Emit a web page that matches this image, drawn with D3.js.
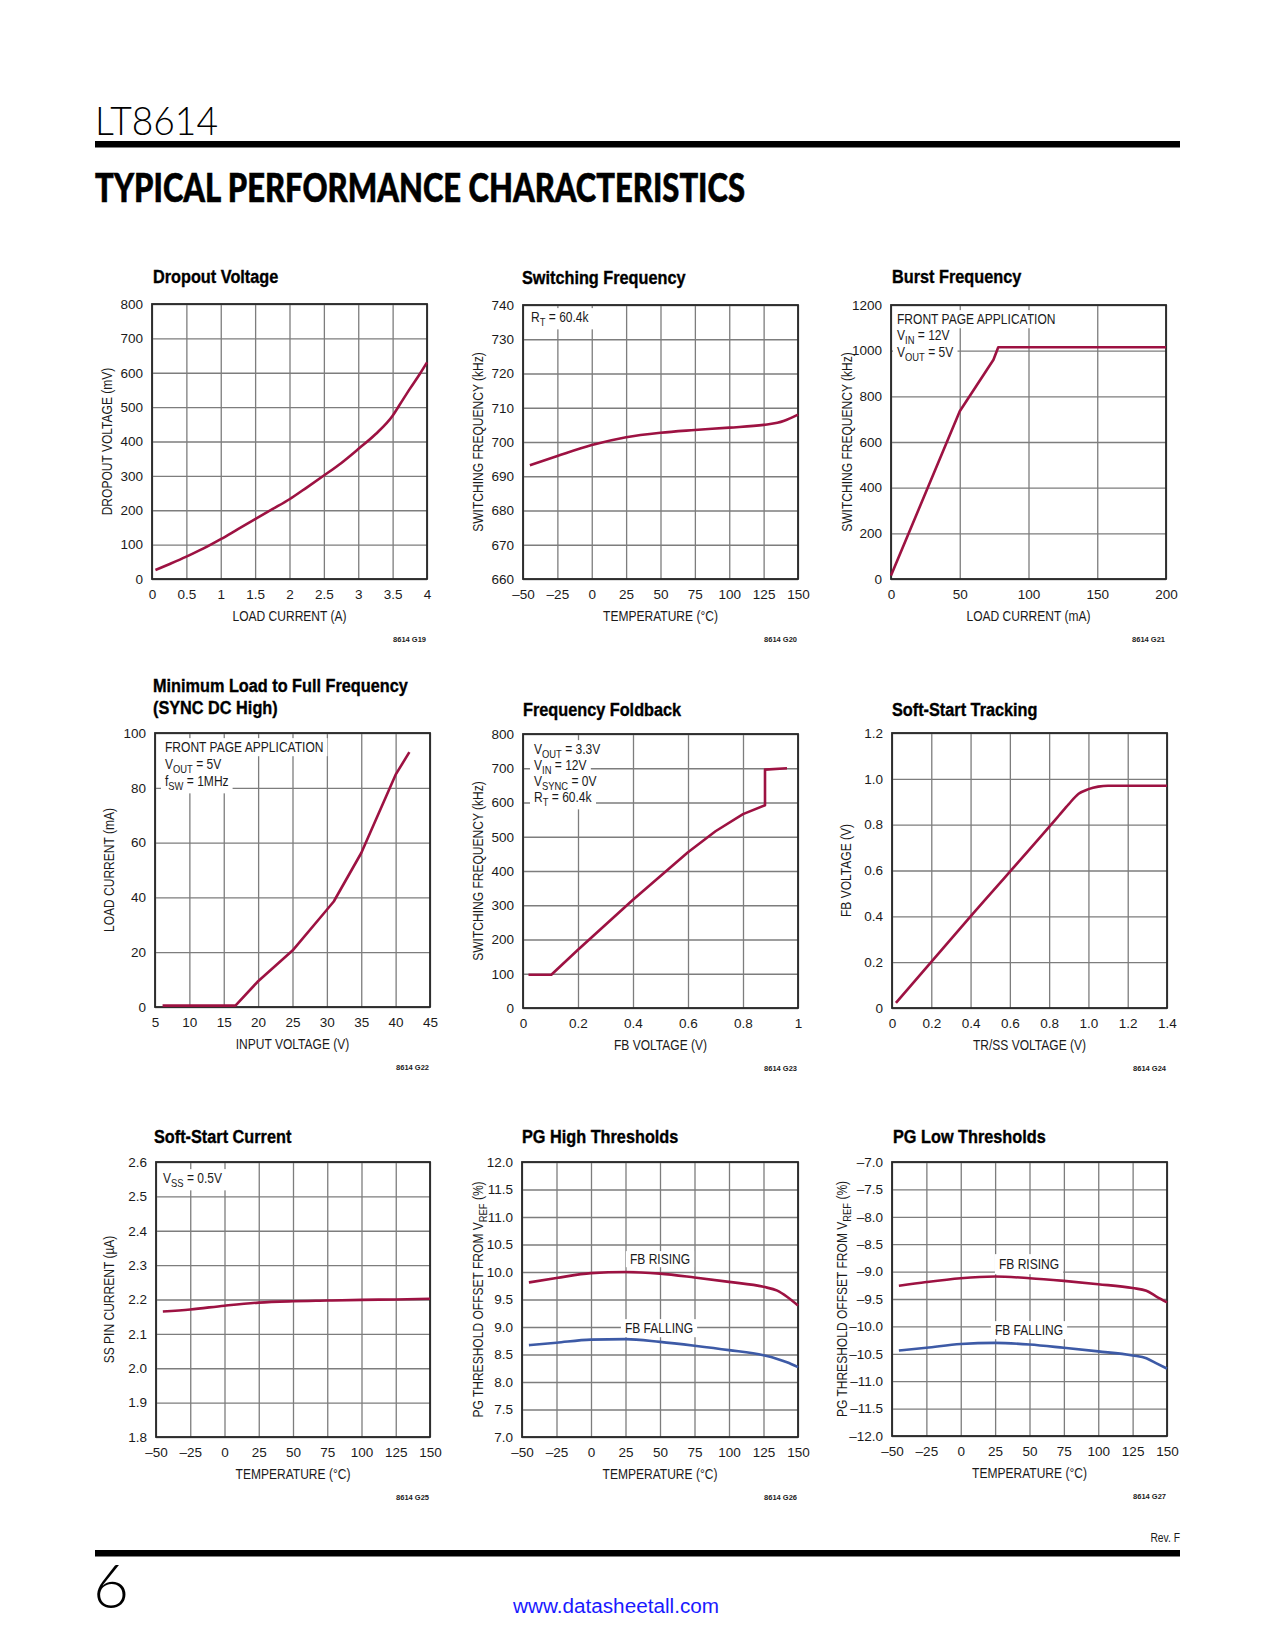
<!DOCTYPE html>
<html><head><meta charset="utf-8">
<script src="https://cdn.jsdelivr.net/npm/d3@7"></script>
<style>body{margin:0;background:#fff}svg{display:block}</style>
</head><body>
<script>
// ---------------- DATA ----------------
const tempTicks = [-50,-25,0,25,50,75,100,125,150];
const tempLabels = ["–50","–25","0","25","50","75","100","125","150"];

// G19 Dropout Voltage
const dropoutXTicks = [0,0.5,1,1.5,2,2.5,3,3.5,4];
const dropoutXLabels = ["0","0.5","1","1.5","2","2.5","3","3.5","4"];
const dropoutYTicks = [0,100,200,300,400,500,600,700,800];
const dropoutYLabels = ["0","100","200","300","400","500","600","700","800"];
const dropoutCurrent = [0.05,0.25,0.5,0.75,1,1.25,1.5,1.75,2,2.25,2.5,2.75,3,3.25,3.5,3.6,3.75,3.9,4];
const dropoutVoltage = [26,43,65,89,116,145,174,203,232,266,301,337,378,421,475,506,553,598,630];

// G20 Switching Frequency
const swYTicks = [660,670,680,690,700,710,720,730,740];
const swYLabels = ["660","670","680","690","700","710","720","730","740"];
const swTemp = [-45,-25,0,25,50,75,100,125,135,140,150];
const swFreq = [693.2,695.9,699.1,701.4,702.7,703.5,704.2,705.0,705.6,706.2,708.0];

// G21 Burst Frequency
const burstXTicks = [0,50,100,150,200];
const burstXLabels = ["0","50","100","150","200"];
const burstYTicks = [0,200,400,600,800,1000,1200];
const burstYLabels = ["0","200","400","600","800","1000","1200"];
const burstLoad = [0,50,74.5,78,200];
const burstFreq = [15,735,960,1015,1015];

// G22 Minimum Load to Full Frequency
const minXTicks = [5,10,15,20,25,30,35,40,45];
const minXLabels = ["5","10","15","20","25","30","35","40","45"];
const minYTicks = [0,20,40,60,80,100];
const minYLabels = ["0","20","40","60","80","100"];
const minVin = [6.1,16.7,20,25,30,31,35,40,42];
const minLoad = [0.5,0.5,9.4,20.6,35.5,38.5,56.2,84.8,93];

// G23 Frequency Foldback
const fbXTicks = [0,0.2,0.4,0.6,0.8,1];
const fbXLabels = ["0","0.2","0.4","0.6","0.8","1"];
const fbYTicks = [0,100,200,300,400,500,600,700,800];
const fbYLabels = ["0","100","200","300","400","500","600","700","800"];
const fbVolt = [0.02,0.103,0.2,0.4,0.6,0.7,0.8,0.88,0.88,0.96];
const fbFreq = [97,97,170,316,455,516,566,592,696,700];

// G24 Soft-Start Tracking
const trXTicks = [0,0.2,0.4,0.6,0.8,1.0,1.2,1.4];
const trXLabels = ["0","0.2","0.4","0.6","0.8","1.0","1.2","1.4"];
const trYTicks = [0,0.2,0.4,0.6,0.8,1.0,1.2];
const trYLabels = ["0","0.2","0.4","0.6","0.8","1.0","1.2"];
const trSS = [0.02,0.4,0.8,0.85,0.9,0.95,1.0,1.05,1.1,1.2,1.4];
const trFB = [0.022,0.4,0.79,0.84,0.89,0.935,0.955,0.966,0.97,0.97,0.97];

// G25 Soft-Start Current
const ssYTicks = [1.8,1.9,2.0,2.1,2.2,2.3,2.4,2.5,2.6];
const ssYLabels = ["1.8","1.9","2.0","2.1","2.2","2.3","2.4","2.5","2.6"];
const ssTemp = [-45,-25,0,25,50,75,100,125,150];
const ssCurrent = [2.165,2.171,2.182,2.191,2.195,2.197,2.199,2.200,2.202];

// G26 PG High Thresholds
const pgHighYTicks = [7,7.5,8,8.5,9,9.5,10,10.5,11,11.5,12];
const pgHighYLabels = ["7.0","7.5","8.0","8.5","9.0","9.5","10.0","10.5","11.0","11.5","12.0"];
const pgTemp = [-45,-25,0,25,50,75,100,125,135,142,150];
const pgHighRising = [9.81,9.89,9.98,10.0,9.97,9.9,9.82,9.73,9.66,9.55,9.39];
const pgHighFalling = [8.67,8.715,8.77,8.78,8.73,8.66,8.58,8.485,8.42,8.36,8.27];

// G27 PG Low Thresholds
const pgLowYTicks = [-12,-11.5,-11,-10.5,-10,-9.5,-9,-8.5,-8,-7.5,-7];
const pgLowYLabels = ["–12.0","–11.5","–11.0","–10.5","–10.0","–9.5","–9.0","–8.5","–8.0","–7.5","–7.0"];
const pgLowRising = [-9.26,-9.19,-9.12,-9.09,-9.12,-9.17,-9.23,-9.3,-9.35,-9.45,-9.56];
const pgLowFalling = [-10.44,-10.39,-10.32,-10.3,-10.33,-10.39,-10.455,-10.53,-10.58,-10.67,-10.77];

// ---------------- STYLE ----------------
const FONT = "'Liberation Sans', Arial, Helvetica, sans-serif";
const RED = "#9d1242";
const BLUE = "#3d5aa6";
const GRID = "#7d7d7d";
const FRAME = "#262626";
const TXT = "#1a1a1a";
const SX = 0.86;

const svg = d3.select("body").append("svg")
  .attr("width", 1275).attr("height", 1650)
  .style("font-family", FONT);

function condText(parent, x, y, segs, opts) {
  const size = opts.size || 14, sx = opts.sx || SX, anchor = opts.anchor || "start";
  const g = parent.append("g").attr("transform",
    `translate(${x},${y})` + (opts.rot ? ` rotate(${opts.rot})` : "") + ` scale(${sx},1)`);
  const t = g.append("text").attr("text-anchor", anchor).attr("font-size", size)
    .attr("font-weight", opts.weight || "normal").attr("fill", opts.fill || TXT);
  if (opts.stroke) t.attr("stroke", opts.fill || TXT).attr("stroke-width", opts.stroke);
  if (opts.dy) t.attr("dy", opts.dy);
  let prevSub = false;
  segs.forEach((s, i) => {
    const str = typeof s === "string" ? s : s[0];
    const sub = typeof s !== "string" && !!s[1];
    const ts = t.append("tspan").text(str);
    if (sub) ts.attr("font-size", size * 0.78).attr("dy", prevSub ? 0 : size * 0.3);
    else if (prevSub) ts.attr("dy", -size * 0.3);
    else if (i === 0 && opts.dy) ts.attr("dy", opts.dy);
    prevSub = sub;
  });
  return { g, t, sx };
}

function drawChart(c) {
  const [x0, y0, x1, y1] = c.box;
  const x = d3.scaleLinear().domain(c.xDomain).range([x0, x1]);
  const y = d3.scaleLinear().domain(c.yDomain).range([y1, y0]);
  const g = svg.append("g");

  // grid
  g.append("g").attr("transform", `translate(0,${y1})`)
    .call(d3.axisBottom(x).tickValues(c.xTicks).tickSize(-(y1 - y0)).tickFormat(""))
    .call(s => s.select(".domain").remove())
    .selectAll("line").attr("stroke", GRID).attr("stroke-width", 1.3);
  g.append("g").attr("transform", `translate(${x0},0)`)
    .call(d3.axisLeft(y).tickValues(c.yTicks).tickSize(-(x1 - x0)).tickFormat(""))
    .call(s => s.select(".domain").remove())
    .selectAll("line").attr("stroke", GRID).attr("stroke-width", 1.3);

  // masks + annotation text
  const maskLayer = g.append("g");
  const textLayer = g.append("g");
  (c.annots || []).forEach(a => {
    const o = condText(textLayer, a.x, a.y, a.segs, { size: 14, anchor: a.anchor || "start" });
    const bb = o.t.node().getBBox();
    const ph = 4 / o.sx, pv = a.pv !== undefined ? a.pv : 1;
    maskLayer.append("rect").attr("transform", o.g.attr("transform"))
      .attr("x", bb.x - ph).attr("y", bb.y - pv)
      .attr("width", bb.width + 2 * ph).attr("height", bb.height + 2 * pv)
      .attr("fill", "#fff");
  });

  // frame
  g.append("rect").attr("x", x0).attr("y", y0).attr("width", x1 - x0).attr("height", y1 - y0)
    .attr("fill", "none").attr("stroke", FRAME).attr("stroke-width", 1.8);

  // curves
  c.series.forEach(s => {
    const pts = s.x.map((v, i) => [v, s.y[i]]);
    g.append("path").datum(pts)
      .attr("d", d3.line().x(d => x(d[0])).y(d => y(d[1])).curve(s.curve || d3.curveMonotoneX))
      .attr("fill", "none").attr("stroke", s.color).attr("stroke-width", 2.6)
      .attr("stroke-linejoin", "round");
  });

  // tick labels
  const xl = g.append("g").attr("transform", `translate(0,${y1})`)
    .call(d3.axisBottom(x).tickValues(c.xTicks).tickSize(0).tickPadding(10)
      .tickFormat((d, i) => c.xLabels[i]));
  xl.select(".domain").remove();
  xl.attr("font-size", 13.5).attr("font-family", FONT);
  xl.selectAll("text").attr("fill", TXT);
  const yl = g.append("g").attr("transform", `translate(${x0},0)`)
    .call(d3.axisLeft(y).tickValues(c.yTicks).tickSize(0).tickPadding(9)
      .tickFormat((d, i) => c.yLabels[i]));
  yl.select(".domain").remove();
  yl.attr("font-size", 13.5).attr("font-family", FONT);
  yl.selectAll("text").attr("fill", TXT);

  // titles
  c.title.forEach((t, i) => {
    condText(g, c.titleX, c.titleY[i], [t], { size: 18.5, weight: "bold", sx: 0.88, fill: "#000", stroke: 0.35 });
  });
  condText(g, (x0 + x1) / 2, y1 + 42, c.xTitle, { size: 14, anchor: "middle" });
  condText(g, x0 - c.yOff, (y0 + y1) / 2, c.yTitle, { size: 14, anchor: "middle", rot: -90, dy: "0.35em" });

  // figure id
  g.append("text").attr("x", x1 - 1).attr("y", y1 + 63).attr("text-anchor", "end")
    .attr("font-size", 7.5).attr("font-weight", "bold").attr("fill", "#222").text(c.id);
}

const charts = [
  { id: "8614 G19", box: [152, 304, 427, 579], title: ["Dropout Voltage"], titleX: 153, titleY: [283],
    xDomain: [0, 4], yDomain: [0, 800], xTicks: dropoutXTicks, xLabels: dropoutXLabels,
    yTicks: dropoutYTicks, yLabels: dropoutYLabels,
    xTitle: ["LOAD CURRENT (A)"], yTitle: ["DROPOUT VOLTAGE (mV)"], yOff: 45,
    series: [{ x: dropoutCurrent, y: dropoutVoltage, color: RED }] },
  { id: "8614 G20", box: [523, 305, 798, 579], title: ["Switching Frequency"], titleX: 522, titleY: [284],
    xDomain: [-50, 150], yDomain: [660, 740], xTicks: tempTicks, xLabels: tempLabels,
    yTicks: swYTicks, yLabels: swYLabels,
    xTitle: ["TEMPERATURE (°C)"], yTitle: ["SWITCHING FREQUENCY (kHz)"], yOff: 45,
    series: [{ x: swTemp, y: swFreq, color: RED }],
    annots: [{ x: 531, y: 322, segs: ["R", ["T", 1], " = 60.4k"] }] },
  { id: "8614 G21", box: [891, 305, 1166, 579], title: ["Burst Frequency"], titleX: 892, titleY: [283],
    xDomain: [0, 200], yDomain: [0, 1200], xTicks: burstXTicks, xLabels: burstXLabels,
    yTicks: burstYTicks, yLabels: burstYLabels,
    xTitle: ["LOAD CURRENT (mA)"], yTitle: ["SWITCHING FREQUENCY (kHz)"], yOff: 44,
    series: [{ x: burstLoad, y: burstFreq, color: RED, curve: d3.curveLinear }],
    annots: [{ x: 897, y: 324, segs: ["FRONT PAGE APPLICATION"] },
             { x: 897, y: 340, segs: ["V", ["IN", 1], " = 12V"] },
             { x: 897, y: 357, segs: ["V", ["OUT", 1], " = 5V"] }] },
  { id: "8614 G22", box: [155, 733, 430, 1007], title: ["Minimum Load to Full Frequency", "(SYNC DC High)"],
    titleX: 153, titleY: [692, 714],
    xDomain: [5, 45], yDomain: [0, 100], xTicks: minXTicks, xLabels: minXLabels,
    yTicks: minYTicks, yLabels: minYLabels,
    xTitle: ["INPUT VOLTAGE (V)"], yTitle: ["LOAD CURRENT (mA)"], yOff: 46,
    series: [{ x: minVin, y: minLoad, color: RED, curve: d3.curveLinear }],
    annots: [{ x: 165, y: 752, segs: ["FRONT PAGE APPLICATION"] },
             { x: 165, y: 769, segs: ["V", ["OUT", 1], " = 5V"] },
             { x: 165, y: 786, segs: ["f", ["SW", 1], " = 1MHz"] }] },
  { id: "8614 G23", box: [523, 734, 798, 1008], title: ["Frequency Foldback"], titleX: 523, titleY: [716],
    xDomain: [0, 1], yDomain: [0, 800], xTicks: fbXTicks, xLabels: fbXLabels,
    yTicks: fbYTicks, yLabels: fbYLabels,
    xTitle: ["FB VOLTAGE (V)"], yTitle: ["SWITCHING FREQUENCY (kHz)"], yOff: 45,
    series: [{ x: fbVolt, y: fbFreq, color: RED, curve: d3.curveLinear }],
    annots: [{ x: 534, y: 754, segs: ["V", ["OUT", 1], " = 3.3V"] },
             { x: 534, y: 770, segs: ["V", ["IN", 1], " = 12V"] },
             { x: 534, y: 786, segs: ["V", ["SYNC", 1], " = 0V"] },
             { x: 534, y: 802, segs: ["R", ["T", 1], " = 60.4k"] }] },
  { id: "8614 G24", box: [892, 733, 1167, 1008], title: ["Soft-Start Tracking"], titleX: 892, titleY: [716],
    xDomain: [0, 1.4], yDomain: [0, 1.2], xTicks: trXTicks, xLabels: trXLabels,
    yTicks: trYTicks, yLabels: trYLabels,
    xTitle: ["TR/SS VOLTAGE (V)"], yTitle: ["FB VOLTAGE (V)"], yOff: 46,
    series: [{ x: trSS, y: trFB, color: RED }] },
  { id: "8614 G25", box: [156, 1162, 430, 1437], title: ["Soft-Start Current"], titleX: 154, titleY: [1143],
    xDomain: [-50, 150], yDomain: [1.8, 2.6], xTicks: tempTicks, xLabels: tempLabels,
    yTicks: ssYTicks, yLabels: ssYLabels,
    xTitle: ["TEMPERATURE (°C)"], yTitle: ["SS PIN CURRENT (µA)"], yOff: 47,
    series: [{ x: ssTemp, y: ssCurrent, color: RED }],
    annots: [{ x: 163, y: 1183, segs: ["V", ["SS", 1], " = 0.5V"] }] },
  { id: "8614 G26", box: [522, 1162, 798, 1437], title: ["PG High Thresholds"], titleX: 522, titleY: [1143],
    xDomain: [-50, 150], yDomain: [7, 12], xTicks: tempTicks, xLabels: tempLabels,
    yTicks: pgHighYTicks, yLabels: pgHighYLabels,
    xTitle: ["TEMPERATURE (°C)"], yTitle: ["PG THRESHOLD OFFSET FROM V", ["REF", 1], " (%)"], yOff: 44,
    series: [{ x: pgTemp, y: pgHighRising, color: RED }, { x: pgTemp, y: pgHighFalling, color: BLUE }],
    annots: [{ x: 660, y: 1264, segs: ["FB RISING"], anchor: "middle", pv: 0 },
             { x: 659, y: 1333, segs: ["FB FALLING"], anchor: "middle", pv: 1 }] },
  { id: "8614 G27", box: [892, 1162, 1167, 1436], title: ["PG Low Thresholds"], titleX: 893, titleY: [1143],
    xDomain: [-50, 150], yDomain: [-12, -7], xTicks: tempTicks, xLabels: tempLabels,
    yTicks: pgLowYTicks, yLabels: pgLowYLabels,
    xTitle: ["TEMPERATURE (°C)"], yTitle: ["PG THRESHOLD OFFSET FROM V", ["REF", 1], " (%)"], yOff: 50,
    series: [{ x: pgTemp, y: pgLowRising, color: RED }, { x: pgTemp, y: pgLowFalling, color: BLUE }],
    annots: [{ x: 1029, y: 1269, segs: ["FB RISING"], anchor: "middle", pv: 2 },
             { x: 1029, y: 1335, segs: ["FB FALLING"], anchor: "middle", pv: 1 }] }
];

// ---------------- PAGE HEADER ----------------
svg.append("text").attr("x", 95).attr("y", 135).attr("font-family", "Lato, " + FONT)
  .attr("font-weight", 300).attr("font-size", 39).attr("textLength", 123)
  .attr("lengthAdjust", "spacingAndGlyphs").attr("fill", "#000").text("LT8614");
svg.append("rect").attr("x", 95).attr("y", 141).attr("width", 1085).attr("height", 6.5).attr("fill", "#000");
svg.append("text").attr("x", 95).attr("y", 202).attr("font-family", "Lato, " + FONT)
  .attr("font-weight", 900).attr("font-size", 40).attr("textLength", 650)
  .attr("lengthAdjust", "spacingAndGlyphs").attr("fill", "#000")
  .attr("stroke", "#000").attr("stroke-width", 0.6)
  .text("TYPICAL PERFORMANCE CHARACTERISTICS");

charts.forEach(drawChart);

// ---------------- PAGE FOOTER ----------------
condText(svg, 1180, 1542, ["Rev. F"], { size: 12, anchor: "end" });
svg.append("rect").attr("x", 95).attr("y", 1550).attr("width", 1085).attr("height", 6.5).attr("fill", "#000");
svg.append("text").attr("x", 93).attr("y", 1608).attr("font-family", "Lato, " + FONT)
  .attr("font-weight", 300).attr("font-size", 62).attr("fill", "#000").text("6");
svg.append("text").attr("x", 616).attr("y", 1613).attr("text-anchor", "middle")
  .attr("font-size", 20).attr("textLength", 206).attr("lengthAdjust", "spacingAndGlyphs")
  .attr("fill", "#1a1aff").text("www.datasheetall.com");
</script>
</body></html>
